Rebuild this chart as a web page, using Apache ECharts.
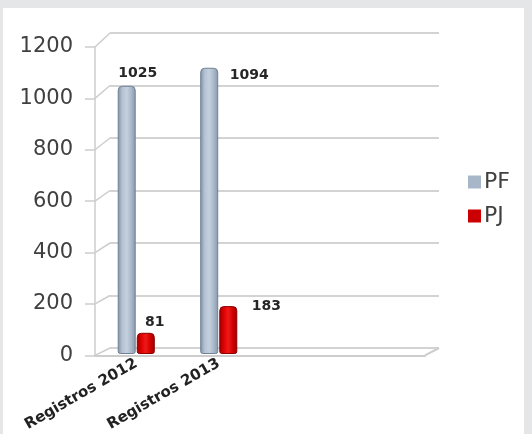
<!DOCTYPE html>
<html>
<head>
<meta charset="utf-8">
<script src="https://cdn.jsdelivr.net/npm/echarts@6/dist/echarts.min.js"></script>
<style>
  html, body { margin: 0; padding: 0; background: #e5e6e8; }
  #panel { position: absolute; left: 3px; top: 8px; width: 521px; height: 430px; background: #ffffff; }
  #chart { position: absolute; left: 0; top: 0; width: 532px; height: 434px; }
</style>
</head>
<body>
<div id="panel"></div>
<div id="chart"></div>
<script>
// ---- data ----
const categories = ['Registros 2012', 'Registros 2013'];
const seriesNames = ['PF', 'PJ'];
const pfValues = [1025, 1094];
const pjValues = [81, 183];
const yTicks = [0, 200, 400, 600, 800, 1000, 1200];

// ---- layout / style (not data) ----
const yMax = 1200, yStep = 200;
const FRONT = { left: 95, top: 47, width: 330, height: 312 };
const BACK = { left: 110, top: 33, width: 329, height: 315 };
const BARS = { left: 95, top: 40, width: 330, height: 314 };
const pfLabelOffsets = [[11, -12], [40, 8]];
const pjLabelOffsets = [[9, -10], [38, 0]];
const lineGray = '#cdcdcd';

const chart = echarts.init(document.getElementById('chart'), null, { renderer: 'canvas' });

function grad(stops) {
  return new echarts.graphic.LinearGradient(0, 0, 1, 0, stops.map((c, i) => ({ offset: i / (stops.length - 1), color: c })));
}
const pfColor = grad(['#7f90a4', '#b4c3d3', '#c4d0dd', '#a9b9ca', '#8797ab']);
const pjColor = grad(['#9e0000', '#e00000', '#ee1a1a', '#d20000', '#9a0000']);

const labelStyle = {
  show: true,
  fontFamily: 'DejaVu Sans',
  fontWeight: 'bold',
  fontSize: 14,
  color: '#262626',
  position: ['50%', 0],
  align: 'center',
  verticalAlign: 'middle'
};

function buildData(values, offsets) {
  return values.map((v, i) => ({
    value: v,
    label: Object.assign({}, labelStyle, { offset: offsets[i] })
  }));
}

const option = {
  animation: false,
  backgroundColor: 'transparent',
  grid: [
    Object.assign({}, BACK),
    Object.assign({}, FRONT),
    Object.assign({}, BARS)
  ],
  xAxis: [
    { gridIndex: 0, type: 'category', data: categories, max: 3, show: false },
    {
      gridIndex: 1, type: 'category', data: categories, max: 3,
      axisLine: { show: true, lineStyle: { color: lineGray, width: 2 } },
      axisTick: { show: false },
      axisLabel: {
        rotate: 30, margin: 7, interval: 0,
        fontFamily: 'DejaVu Sans', fontWeight: 'bold', fontSize: 15, color: '#222222'
      }
    },
    { gridIndex: 2, type: 'category', data: categories, max: 3, show: false }
  ],
  yAxis: [
    {
      gridIndex: 0, type: 'value', min: 0, max: yMax, interval: yStep,
      axisLine: { show: false }, axisTick: { show: false }, axisLabel: { show: false },
      splitLine: { show: true, lineStyle: { color: '#d3d3d3', width: 2 } }
    },
    {
      gridIndex: 1, type: 'value', min: 0, max: yMax, interval: yStep,
      axisLine: { show: true, lineStyle: { color: lineGray, width: 1.5 } },
      axisTick: { show: true, length: 10, lineStyle: { color: lineGray, width: 1.5 } },
      splitLine: { show: false },
      axisLabel: {
        margin: 22, fontFamily: 'DejaVu Sans', fontSize: 21, color: '#404040',
        formatter: function (v) { return String(v); }
      }
    },
    { gridIndex: 2, type: 'value', min: 0, max: yMax, interval: yStep, show: false }
  ],
  legend: {
    orient: 'vertical',
    left: 463,
    top: 166,
    itemWidth: 13,
    itemHeight: 13,
    itemGap: 12,
    icon: 'rect',
    textStyle: { fontFamily: 'DejaVu Sans', fontSize: 22, color: '#404040', padding: [0, 0, 0, -2] },
    data: [
      { name: 'PF', itemStyle: { color: '#a7b6c8', borderWidth: 0 } },
      { name: 'PJ', itemStyle: { color: '#cc0000', borderWidth: 0 } }
    ]
  },
  series: [
    {
      type: 'custom',
      name: 'depth',
      silent: true,
      xAxisIndex: 1, yAxisIndex: 1,
      z: 1,
      data: yTicks.map(v => [0, v]),
      renderItem: function (params, api) {
        const cs = params.coordSys;
        const v = api.value(1);
        const y = api.coord([0, v])[1];
        const by = BACK.top + (1 - v / yMax) * BACK.height;
        const children = [{
          type: 'line',
          shape: { x1: cs.x, y1: y, x2: BACK.left, y2: by },
          style: { stroke: lineGray, lineWidth: 1.5 }
        }];
        if (v === 0) {
          children.push({
            type: 'line',
            shape: { x1: cs.x + cs.width, y1: y, x2: BACK.left + BACK.width, y2: by },
            style: { stroke: lineGray, lineWidth: 2 }
          });
        }
        return { type: 'group', children: children };
      }
    },
    {
      name: seriesNames[0],
      type: 'bar',
      xAxisIndex: 2, yAxisIndex: 2,
      z: 3,
      barWidth: 18,
      barGap: '6%',
      itemStyle: { color: pfColor, borderColor: '#708195', borderWidth: 1, borderRadius: [4, 4, 2, 2] },
      data: buildData(pfValues, pfLabelOffsets)
    },
    {
      name: seriesNames[1],
      type: 'bar',
      xAxisIndex: 2, yAxisIndex: 2,
      z: 3,
      barWidth: 18,
      itemStyle: { color: pjColor, borderColor: '#8c0000', borderWidth: 1, borderRadius: [4, 4, 2, 2] },
      data: buildData(pjValues, pjLabelOffsets)
    }
  ]
};
chart.setOption(option);
</script>
</body>
</html>
